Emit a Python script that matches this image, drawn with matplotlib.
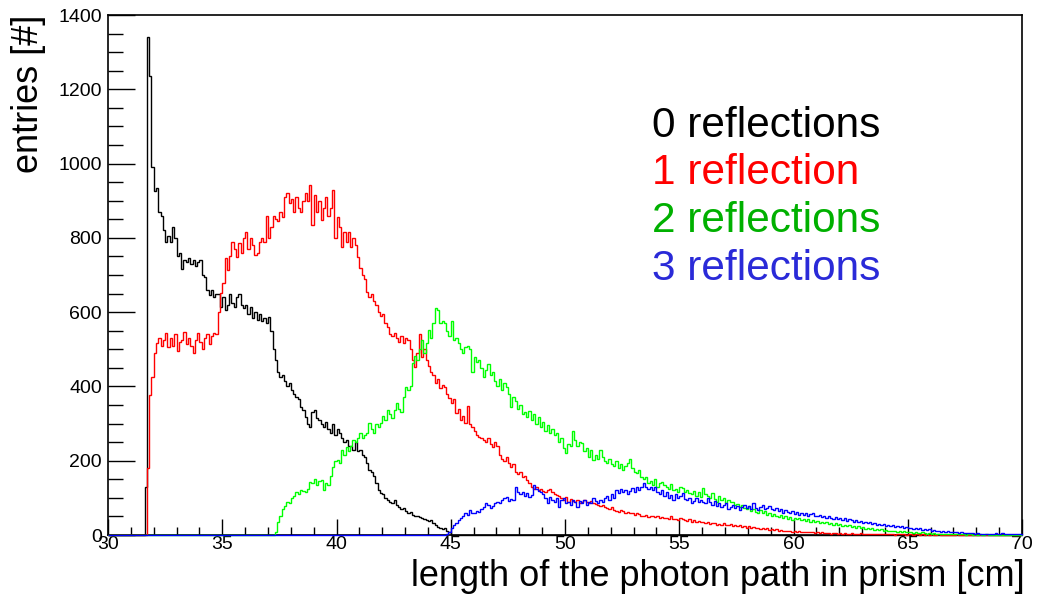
import matplotlib.pyplot as plt
import numpy as np

plt.rcParams['font.family'] = ['Liberation Sans', 'DejaVu Sans']

# path length histograms, 0.1 cm bins between 30 and 70 cm
x_min, x_max, bin_width = 30.0, 70.0, 0.1

# 0 reflections, first bin at 31.6 cm
black_start = 31.6
black_counts = [
    130, 1340, 1235, 990, 925, 935, 870, 860, 820, 790,
    805, 790, 830, 800, 750, 760, 715, 740, 735, 745,
    730, 740, 725, 735, 740, 700, 695, 660, 645, 660,
    640, 650, 650, 615, 640, 605, 620, 650, 625, 614,
    640, 650, 620, 610, 620, 595, 615, 585, 600, 580,
    595, 575, 585, 570, 587, 550, 500, 470, 440, 425,
    430, 415, 400, 410, 390, 380, 372, 365, 345, 336,
    318, 300, 291, 330, 336, 315, 310, 300, 290, 305,
    285, 275, 300, 270, 285, 275, 260, 250, 255, 240,
    240, 229, 250, 225, 230, 215, 210, 195, 175, 170,
    160, 140, 120, 113, 110, 100, 95, 90, 86, 94,
    80, 75, 70, 72, 65, 60, 62, 55, 50, 52,
    48, 45, 42, 40, 38, 40, 32, 28, 22, 20,
    15, 18, 10, 8,
]

# 1 reflection, first bin at 31.7 cm
red_start = 31.7
red_counts = [
    180, 377, 425, 490, 517, 530, 510, 525, 545, 505,
    530, 510, 540, 495, 520, 525, 547, 515, 530, 510,
    490, 525, 544, 520, 500, 530, 540, 515, 535, 545,
    540, 601, 651, 678, 745, 713, 750, 790, 770, 749,
    785, 760, 800, 815, 770, 800, 781, 754, 760, 790,
    800, 790, 860, 800, 830, 860, 850, 845, 870, 855,
    910, 920, 893, 905, 870, 911, 880, 870, 900, 920,
    900, 942, 835, 915, 870, 900, 848, 880, 910, 860,
    880, 929, 799, 857, 830, 776, 815, 790, 817, 776,
    800, 780, 749, 720, 700, 690, 655, 642, 650, 630,
    620, 600, 589, 595, 570, 560, 540, 535, 544, 530,
    520, 535, 516, 530, 525, 500, 470, 453, 490, 540,
    480, 500, 471, 455, 440, 430, 409, 420, 395, 405,
    398, 380, 370, 355, 365, 328, 340, 310, 320, 301,
    346, 300, 291, 280, 270, 264, 260, 255, 250, 262,
    245, 237, 250, 240, 215, 205, 200, 210, 195, 183,
    190, 170, 165, 170, 157, 160, 148, 140, 130, 125,
    128, 121, 125, 118, 115, 120, 125, 115, 110, 108,
    105, 100, 95, 102, 90, 98, 92, 88, 95, 86,
    90, 95, 88, 86, 92, 86, 84, 80, 78, 82,
    76, 72, 70, 75, 68, 65, 63, 66, 64, 60,
    62, 58, 60, 55, 58, 56, 52, 50, 54, 49,
    52, 50, 48, 51, 46, 49, 45, 47, 44, 50,
    42, 44, 40, 46, 42, 40, 38, 42, 36, 40,
    36, 38, 34, 35, 32, 36, 30, 33, 31, 28,
    30, 27, 32, 28, 26, 29, 25, 27, 24, 26,
    22, 24, 20, 23, 19, 21, 18, 20, 17, 19,
    16, 18, 14, 15, 13, 16, 12, 14, 11, 12,
    10, 12, 9, 11, 8, 10, 9, 7, 9, 8,
    7, 8, 6, 7, 5, 7, 6, 5, 6, 4,
    5, 6, 4, 5, 4, 6, 3, 4, 5, 3,
    4, 3, 5, 3, 4, 2, 3, 4, 2, 3,
    3, 2, 3, 4, 2, 3, 2, 1, 3, 2,
    2, 3, 1, 2, 2, 1, 3, 2, 1, 2,
    1, 2, 1, 2, 1, 1, 2, 1, 0, 1,
    1, 1, 0, 1, 2, 1, 0, 1, 1, 0,
    1, 0, 1, 0, 1, 1, 0, 0, 1, 0,
    0, 1, 0, 0, 1, 0, 0, 1, 0, 0,
    0, 0, 1,
]

# 2 reflections, first bin at 37.3 cm
green_start = 37.3
green_counts = [
    8, 35, 50, 70, 78, 90, 85, 100, 105, 115,
    110, 120, 118, 115, 125, 144, 140, 150, 135, 145,
    148, 120, 140, 135, 160, 184, 200, 202, 194, 229,
    215, 237, 225, 240, 255, 250, 262, 275, 260, 270,
    275, 301, 285, 275, 300, 290, 301, 320, 310, 336,
    325, 315, 336, 355, 340, 330, 372, 399, 390, 400,
    462, 481, 471, 500, 525, 490, 516, 552, 530, 570,
    611, 606, 570, 575, 570, 550, 535, 575, 525, 530,
    516, 500, 489, 505, 510, 500, 440, 480, 465, 471,
    450, 426, 445, 460, 430, 440, 415, 400, 420, 390,
    410, 399, 380, 345, 372, 360, 340, 350, 325, 330,
    318, 335, 310, 325, 300, 318, 290, 305, 280, 295,
    275, 285, 270, 274, 250, 260, 235, 220, 245, 240,
    280, 255, 240, 250, 247, 225, 235, 210, 230, 202,
    215, 205, 230, 210, 200, 195, 205, 190, 185, 200,
    180, 190, 175, 185, 195, 205, 180, 170, 166, 175,
    157, 150, 155, 140, 145, 135, 150, 130, 140, 143,
    135, 130, 125, 138, 120, 125, 117, 130, 126, 115,
    120, 112, 110, 118, 105, 115, 103, 126, 110, 105,
    100, 112, 98, 90, 105, 95, 100, 86, 94, 88,
    90, 80, 84, 75, 80, 72, 70, 78, 65, 70,
    62, 59, 67, 60, 65, 55, 58, 50, 56, 52,
    48, 55, 45, 50, 44, 48, 40, 46, 42, 45,
    40, 44, 38, 42, 36, 40, 35, 38, 33, 36,
    32, 35, 30, 33, 28, 31, 27, 30, 25, 28,
    25, 27, 22, 24, 20, 23, 19, 21, 17, 20,
    16, 18, 14, 16, 13, 15, 12, 14, 11, 12,
    10, 12, 9, 11, 8, 10, 7, 9, 8, 6,
    7, 6, 5, 7, 5, 4, 6, 4, 5, 3,
    4, 3, 4, 2, 3, 4, 2, 3, 2, 3,
    2, 3, 1, 2, 2, 1, 2, 1, 2, 1,
    1, 2, 1, 1, 0, 1, 1, 0, 1, 1,
    0, 1, 0, 1, 0, 0, 1,
]

# 3 reflections, first bin at 44.8 cm
blue_start = 44.8
blue_counts = [
    3, 9, 18, 27, 31, 40, 45, 52, 58, 55,
    67, 60, 58, 65, 62, 70, 75, 86, 80, 72,
    78, 86, 90, 85, 95, 100, 103, 92, 98, 95,
    130, 115, 110, 117, 105, 112, 103, 108, 135, 125,
    118, 117, 110, 100, 86, 103, 95, 90, 100, 76,
    94, 100, 85, 90, 80, 95, 88, 76, 92, 86,
    94, 80, 90, 85, 100, 92, 85, 95, 88, 100,
    105, 95, 110, 100, 120, 112, 125, 115, 120, 110,
    118, 126, 115, 130, 122, 128, 139, 130, 125, 130,
    120, 128, 115, 110, 120, 105, 115, 100, 108, 94,
    110, 100, 105, 112, 98, 95, 100, 85, 92, 100,
    88, 95, 90, 85, 100, 88, 80, 92, 78, 85,
    76, 82, 85, 70, 75, 80, 72, 78, 67, 75,
    80, 72, 78, 70, 85, 74, 68, 76, 80, 70,
    72, 78, 70, 67, 74, 65, 70, 60, 68, 62,
    58, 65, 56, 62, 54, 60, 55, 58, 50, 56,
    60, 52, 50, 55, 48, 52, 45, 50, 47, 44,
    48, 42, 45, 40, 46, 38, 42, 40, 36, 40,
    35, 38, 33, 36, 31, 34, 30, 32, 28, 30,
    27, 30, 25, 28, 24, 26, 22, 25, 21, 23,
    20, 22, 18, 20, 17, 19, 16, 18, 14, 15,
    13, 15, 12, 13, 10, 12, 9, 11, 8, 10,
    8, 9, 7, 8, 6, 7, 5, 6, 5, 6,
    5, 4, 5, 3, 4, 3, 4, 2, 3, 3,
    5, 3, 2, 6, 3, 2, 4, 2, 3, 2,
    3, 2,
]

labels = ['0 reflections', '1 reflection', '2 reflections', '3 reflections']

n_bins = int(round((x_max - x_min) / bin_width))
edges = np.linspace(x_min, x_max, n_bins + 1)


def full_hist(start, counts):
    h = np.zeros(n_bins)
    i0 = int(round((start - x_min) / bin_width))
    h[i0:i0 + len(counts)] = counts
    return h


hists = [
    (full_hist(black_start, black_counts), 'black'),
    (full_hist(red_start, red_counts), '#ff0000'),
    (full_hist(green_start, green_counts), '#00ff00'),
    (full_hist(blue_start, blue_counts), '#0000ff'),
]
text_colors = ['black', '#ff0000', '#00b000', '#2a2ad8']

fig = plt.figure(figsize=(10.39, 6.01), dpi=100)
ax = fig.add_axes([108 / 1039, 66 / 601, 914 / 1039, 520 / 601])

# histograms go over the frame so the empty bins show on the x axis
for h, c in hists:
    ax.stairs(h, edges, color=c, linewidth=1.0, baseline=0, zorder=3, clip_on=False)

ax.set_xlim(x_min, x_max)
ax.set_ylim(0, 1400)
ax.set_xticks(np.arange(30, 71, 5))
ax.set_xticks(np.arange(30, 71, 1), minor=True)
ax.set_yticks(np.arange(0, 1401, 200))
ax.set_yticks(np.arange(0, 1401, 50), minor=True)

ax.tick_params(axis='x', which='major', direction='in', length=11.5, width=1.0,
               labelsize=14, pad=1)
ax.tick_params(axis='x', which='minor', direction='in', length=5.8, width=1.0)
ax.tick_params(axis='y', which='major', direction='in', length=19.5, width=1.0,
               labelsize=14, pad=4.5)
ax.tick_params(axis='y', which='minor', direction='in', length=10.8, width=1.0)
for s in ax.spines.values():
    s.set_linewidth(1.2)

fig.text(1025 / 1039, 1 - 586 / 601, 'length of the photon path in prism [cm]',
         fontsize=26, ha='right', va='baseline')
fig.text(29 / 1039, 1 - 15 / 601, 'entries [#]', fontsize=26, rotation=90,
         ha='center', va='top')

baselines = [136.7, 184.3, 232.3, 280.0]
for lab, col, yb in zip(labels, text_colors, baselines):
    fig.text(652 / 1039, 1 - yb / 601, lab, fontsize=30.5, color=col,
             ha='left', va='baseline')

fig.savefig('out.png', dpi=100)
